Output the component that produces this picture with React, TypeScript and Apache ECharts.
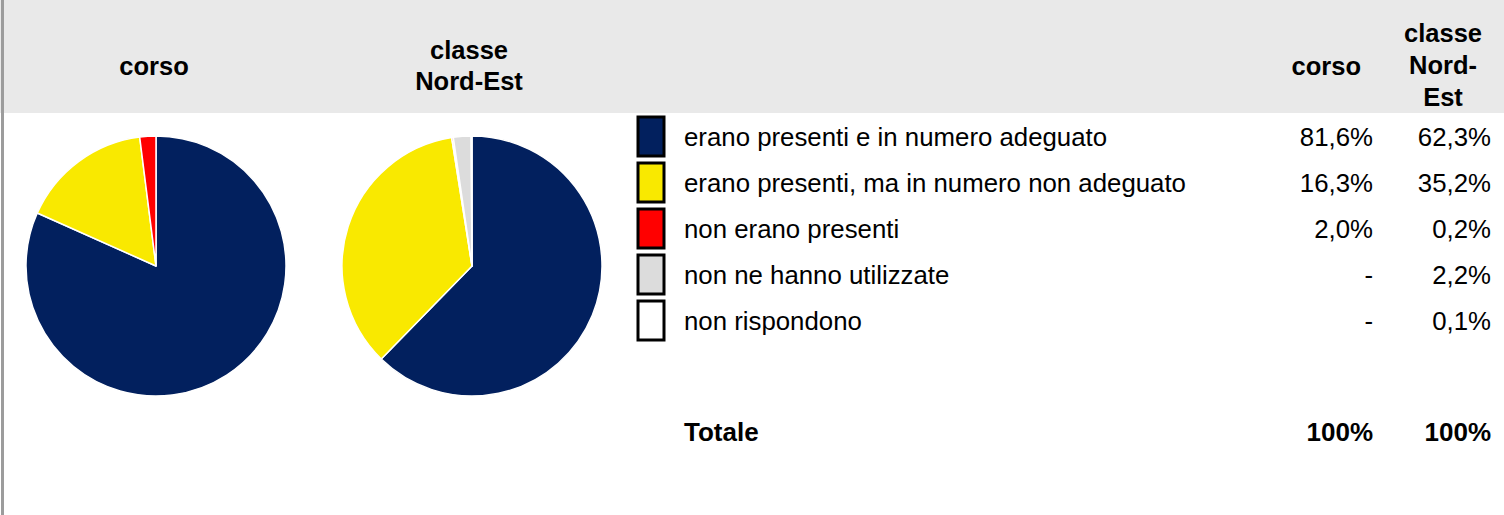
import React, { useEffect, useRef } from "react";
import * as echarts from "echarts";

const categories = [
  "erano presenti e in numero adeguato",
  "erano presenti, ma in numero non adeguato",
  "non erano presenti",
  "non ne hanno utilizzate",
  "non rispondono",
];
const corsoValues: (number | null)[] = [81.6, 16.3, 2.0, null, null];
const classeValues: (number | null)[] = [62.3, 35.2, 0.2, 2.2, 0.1];
const sliceColors = ["#02205e", "#f9e900", "#ff0000", "#dcdcdc", "#ffffff"];
const totalLabels = ["100%", "100%"];
const pieTitles = ["corso", "classe\nNord-Est"];
const columnTitles = ["corso", "classe\nNord-\nEst"];
const totalName = "Totale";

const FONT = '"Liberation Sans", Arial, Helvetica, sans-serif';
const REG = `25.8px ${FONT}`;
const BOLD = `bold 25.5px ${FONT}`;

function fmt(v: number | null) {
  if (v === null) return "-";
  return v.toFixed(1).replace(".", ",") + "%";
}

export default function App() {
  const ref = useRef<HTMLDivElement>(null);
  useEffect(() => {
    if (!ref.current) return;
    const chart = echarts.init(ref.current, null, { renderer: "svg" });

    const rowTop = 116;
    const rowPitch = 46;
    const graphic: any[] = [
      { type: "rect", z: -10, shape: { x: 0, y: 0, width: 1504, height: 113 }, style: { fill: "#e9e9e9" } },
      { type: "rect", z: 10, shape: { x: 1, y: 0, width: 3, height: 515 }, style: { fill: "#9c9c9c" } },
      {
        type: "text", x: 154, y: 66,
        style: { text: pieTitles[0], font: BOLD, fill: "#000", align: "center", verticalAlign: "middle" },
      },
      {
        type: "text", x: 469, y: 65,
        style: { text: pieTitles[1], font: BOLD, fill: "#000", align: "center", verticalAlign: "middle", lineHeight: 31 },
      },
      {
        type: "text", x: 1361, y: 66,
        style: { text: columnTitles[0], font: BOLD, fill: "#000", align: "right", verticalAlign: "middle" },
      },
      {
        type: "text", x: 1443, y: 65,
        style: { text: columnTitles[1], font: BOLD, fill: "#000", align: "center", verticalAlign: "middle", lineHeight: 32 },
      },
    ];

    categories.forEach((c, i) => {
      const y = rowTop + i * rowPitch;
      graphic.push({
        type: "rect",
        shape: { x: 638, y: y + 1, width: 26, height: 39 },
        style: { fill: sliceColors[i], stroke: "#000", lineWidth: 3 },
      });
      graphic.push({
        type: "text", x: 684, y: y + 21,
        style: { text: c, font: REG, fill: "#000", verticalAlign: "middle" },
      });
      graphic.push({
        type: "text", x: 1373, y: y + 21,
        style: { text: fmt(corsoValues[i]), font: REG, fill: "#000", align: "right", verticalAlign: "middle" },
      });
      graphic.push({
        type: "text", x: 1491, y: y + 21,
        style: { text: fmt(classeValues[i]), font: REG, fill: "#000", align: "right", verticalAlign: "middle" },
      });
    });

    graphic.push(
      { type: "text", x: 684, y: 432, style: { text: totalName, font: `bold 26px ${FONT}`, fill: "#000", verticalAlign: "middle" } },
      { type: "text", x: 1373, y: 432, style: { text: totalLabels[0], font: `bold 26px ${FONT}`, fill: "#000", align: "right", verticalAlign: "middle" } },
      { type: "text", x: 1491, y: 432, style: { text: totalLabels[1], font: `bold 26px ${FONT}`, fill: "#000", align: "right", verticalAlign: "middle" } }
    );

    const makeData = (vals: (number | null)[]) =>
      categories.map((name, i) => ({
        name,
        value: vals[i] === null ? "-" : vals[i],
        itemStyle: { color: sliceColors[i] },
      }));

    const pieBase = {
      type: "pie",
      radius: 130,
      startAngle: 90,
      clockwise: true,
      label: { show: false },
      labelLine: { show: false },
      emphasis: { disabled: true },
      silent: true,
      itemStyle: { borderColor: "#ffffff", borderWidth: 1.5 },
    };

    chart.setOption({
      animation: false,
      backgroundColor: "#ffffff",
      textStyle: { fontFamily: FONT },
      series: [
        { ...pieBase, name: "corso", center: [156, 266], data: makeData(corsoValues) },
        { ...pieBase, name: "classe Nord-Est", center: [472, 266], data: makeData(classeValues) },
      ],
      graphic,
    });

    return () => chart.dispose();
  }, []);

  return (
    <div
      ref={ref}
      style={{ position: "absolute", left: 0, top: 0, width: 1504, height: 515 }}
    />
  );
}
